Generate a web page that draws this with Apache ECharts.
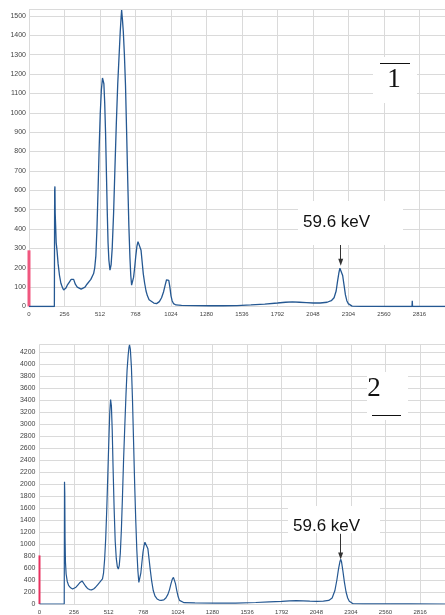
<!DOCTYPE html>
<html>
<head>
<meta charset="utf-8">
<script src="https://cdn.jsdelivr.net/npm/echarts@6/dist/echarts.min.js"></script>
<style>
  html, body { margin: 0; padding: 0; background: #fff; }
  #chart { width: 445px; height: 615px; }
</style>
</head>
<body>
<div id="chart"></div>
<script>
// spectrum 1: channel / counts
const ch1 = [0, 183, 185, 187, 189, 192, 196, 202, 210, 220, 230, 240, 250, 258, 266, 276, 290, 304, 314, 322,
  334, 348, 362, 376, 390, 404, 418, 432, 446, 458, 466, 474, 482, 490, 498, 506, 514, 522, 530, 534,
  540, 546, 552, 558, 564, 570, 576, 584, 592, 600, 610, 620, 630, 640, 650, 658, 664, 668, 674, 680,
  688, 696, 704, 712, 720, 728, 734, 740, 746, 754, 762, 770, 778, 786, 793, 800, 808, 816, 824, 834,
  844, 854, 866, 880, 900, 920, 940, 956, 970, 982, 992, 1000, 1008, 1016, 1024, 1032, 1042, 1060, 1100, 1200,
  1300, 1400, 1500, 1600, 1700, 1792, 1850, 1900, 1950, 2000, 2050, 2100, 2150, 2180, 2200, 2215, 2225, 2235, 2242, 2248,
  2254, 2262, 2272, 2282, 2292, 2302, 2315, 2330, 2400, 2500, 2600, 2762, 2764, 2766, 3000]
const cnt1 = [0, 0, 600, 620, 480, 420, 330, 290, 220, 160, 120, 100, 85, 80, 95, 110, 125, 140, 150, 140,
  115, 100, 95, 90, 88, 100, 115, 125, 140, 150, 170, 200, 260, 400, 600, 820, 1000, 1120, 1180, 1190,
  1150, 1050, 900, 700, 500, 330, 240, 188, 215, 300, 480, 720, 950, 1150, 1300, 1420, 1490, 1530, 1480, 1420,
  1300, 1140, 900, 650, 420, 250, 160, 110, 120, 150, 200, 260, 310, 335, 345, 330, 290, 230, 170, 120,
  80, 55, 35, 25, 18, 15, 25, 45, 75, 110, 138, 146, 135, 100, 55, 30, 15, 8, 6, 5,
  4, 4, 5, 8, 12, 18, 22, 24, 22, 20, 18, 18, 22, 30, 45, 80, 130, 175, 198, 205,
  195, 160, 110, 60, 30, 15, 6, 2, 1, 1, 0, 0, 30, 0, 0]

// spectrum 2: channel / counts
const ch2 = [0, 183, 185, 187, 189, 192, 197, 205, 215, 230, 245, 258, 270, 285, 300, 315, 325, 340, 355, 370,
  385, 400, 415, 430, 445, 458, 466, 474, 482, 490, 498, 506, 514, 520, 526, 532, 538, 544, 552, 560,
  568, 576, 583, 590, 598, 606, 614, 622, 630, 640, 648, 656, 662, 666, 672, 680, 688, 696, 704, 712,
  720, 728, 735, 742, 750, 758, 766, 774, 780, 787, 794, 802, 810, 820, 830, 842, 855, 870, 885, 900,
  920, 935, 950, 962, 972, 982, 991, 998, 1006, 1016, 1026, 1036, 1048, 1070, 1150, 1300, 1450, 1600, 1700, 1792,
  1850, 1900, 1950, 2000, 2050, 2100, 2140, 2165, 2185, 2200, 2212, 2222, 2228, 2234, 2244, 2256, 2268, 2280, 2292, 2304,
  2320, 2400, 2600, 2745, 2748, 2751, 3000]
const cnt2 = [0, 0, 2040, 1850, 1100, 700, 500, 380, 310, 270, 250, 255, 280, 320, 360, 385, 370, 300, 260, 240,
  235, 250, 280, 320, 360, 390, 420, 520, 750, 1100, 1600, 2200, 2800, 3200, 3410, 3300, 2900, 2300, 1600, 1050,
  760, 620, 583, 640, 850, 1250, 1800, 2400, 2900, 3500, 3900, 4150, 4280, 4320, 4250, 3950, 3400, 2700, 2000, 1400,
  900, 550, 360, 380, 520, 700, 870, 980, 1030, 1055, 1020, 920, 760, 560, 380, 220, 130, 85, 65, 60,
  70, 100, 160, 240, 330, 410, 445, 420, 340, 220, 120, 60, 35, 22, 18, 15, 16, 25, 35, 45,
  52, 55, 52, 48, 45, 48, 60, 100, 220, 400, 580, 700, 745, 710, 560, 360, 200, 100, 45, 15,
  4, 2, 1, 1, 20, 1, 0]

// channel 0 (pink bar)
const zero1 = 290
const zero2 = 810

const xTicks = 256
const yTicks1 = 100
const yTicks2 = 200

const zip = (a, b) => a.map((v, i) => [v, b[i]])

const gridColor = '#dadada'
const labelColor = '#444'
const lineColor = '#255892'

function xAxisFor(idx) {
  return {
    type: 'value', gridIndex: idx, min: 0, max: 3000, interval: xTicks,
    axisLine: { show: false }, axisTick: { show: false },
    splitLine: { show: true, lineStyle: { color: gridColor, width: 1 } },
    axisLabel: {
      color: labelColor, fontSize: 6, fontFamily: 'Liberation Sans',
      margin: 5, showMaxLabel: false, formatter: v => String(v)
    }
  }
}

function yAxisFor(idx, max, step, margin) {
  return {
    type: 'value', gridIndex: idx, min: 0, max: max, interval: step,
    axisLine: { show: false }, axisTick: { show: false },
    splitLine: { show: true, lineStyle: { color: gridColor, width: 1 } },
    axisLabel: {
      color: labelColor, fontSize: 7, fontFamily: 'Liberation Sans',
      margin: margin, showMaxLabel: false, formatter: v => String(v)
    }
  }
}

function arrow(ch, from, to) {
  return {
    silent: true,
    symbol: ['none', 'triangle'],
    symbolSize: [5, 7],
    lineStyle: { color: '#333', width: 1, type: 'solid' },
    label: { show: false },
    data: [[{ coord: [ch, from] }, { coord: [ch, to] }]]
  }
}

const chart = echarts.init(document.getElementById('chart'))

const option = {
  animation: false,
  backgroundColor: '#fff',
  grid: [
    { left: 29, right: 0, top: 9, height: 297.5 },
    { left: 39.5, right: 0, top: 344.3, height: 261.7 }
  ],
  xAxis: [xAxisFor(0), xAxisFor(1)],
  yAxis: [yAxisFor(0, 1536, yTicks1, 3), yAxisFor(1, 4330, yTicks2, 4)],
  series: [
    {
      type: 'bar', xAxisIndex: 0, yAxisIndex: 0, barWidth: 3,
      itemStyle: { color: '#f0577f' }, data: [[0, zero1]]
    },
    {
      type: 'line', xAxisIndex: 0, yAxisIndex: 0, symbol: 'none',
      lineStyle: { color: lineColor, width: 1.3 },
      data: zip(ch1, cnt1),
      markLine: arrow(2248, 370, 228)
    },
    {
      type: 'bar', xAxisIndex: 1, yAxisIndex: 1, barWidth: 2,
      itemStyle: { color: '#e8305e' }, data: [[0, zero2]]
    },
    {
      type: 'line', xAxisIndex: 1, yAxisIndex: 1, symbol: 'none',
      lineStyle: { color: lineColor, width: 1.2 },
      data: zip(ch2, cnt2),
      markLine: arrow(2228, 1170, 800)
    }
  ],
  graphic: [
    // chart 1 labels
    { type: 'rect', shape: { x: 298, y: 201, width: 105, height: 44 }, style: { fill: '#fff' }, z: 10 },
    { type: 'text', x: 303, y: 222, z: 11,
      style: { text: '59.6 keV', fontSize: 17, fontFamily: 'Liberation Sans', fill: '#111', verticalAlign: 'middle' } },
    { type: 'rect', shape: { x: 373, y: 57, width: 44, height: 46 }, style: { fill: '#fff' }, z: 10 },
    { type: 'line', shape: { x1: 380, y1: 63.5, x2: 410, y2: 63.5 }, style: { stroke: '#111', lineWidth: 1 }, z: 11 },
    { type: 'text', x: 394, y: 80, z: 11,
      style: { text: '1', fontSize: 27, fontFamily: 'Liberation Serif', fill: '#111', align: 'center', verticalAlign: 'middle' } },
    // chart 2 labels
    { type: 'rect', shape: { x: 288, y: 506, width: 92, height: 27 }, style: { fill: '#fff' }, z: 10 },
    { type: 'text', x: 293, y: 526, z: 11,
      style: { text: '59.6 keV', fontSize: 17, fontFamily: 'Liberation Sans', fill: '#111', verticalAlign: 'middle' } },
    { type: 'rect', shape: { x: 367, y: 372, width: 41, height: 48 }, style: { fill: '#fff' }, z: 10 },
    { type: 'text', x: 374, y: 389, z: 11,
      style: { text: '2', fontSize: 27, fontFamily: 'Liberation Serif', fill: '#111', align: 'center', verticalAlign: 'middle' } },
    { type: 'line', shape: { x1: 372, y1: 415.5, x2: 401, y2: 415.5 }, style: { stroke: '#111', lineWidth: 1 }, z: 11 }
  ]
}

chart.setOption(option)
</script>
</body>
</html>
